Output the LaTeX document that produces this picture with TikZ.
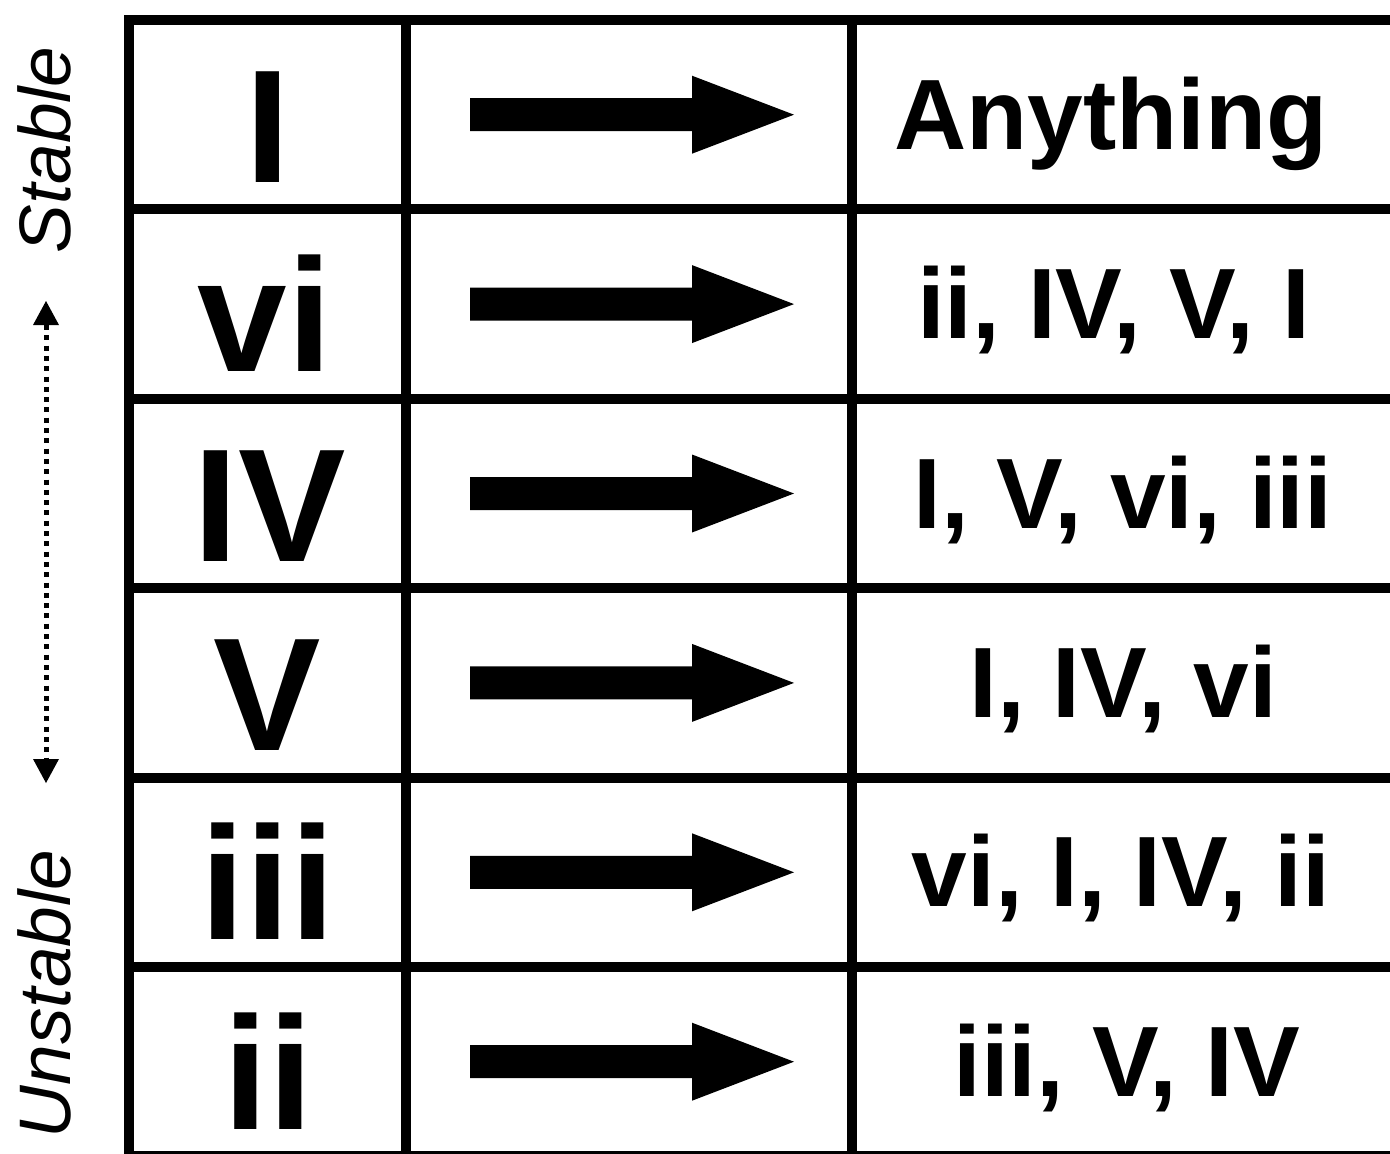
\documentclass[tikz,border=0pt]{standalone}
\usepackage{fontspec}
\setmainfont{Liberation Sans}
\begin{document}
\begin{tikzpicture}[x=1pt,y=-1pt,
  gridline/.style={line width=10pt,line cap=butt},
  bigtxt/.style={font=\fontsize{161}{161}\selectfont\bfseries,inner sep=0pt,anchor=base},
  smalltxt/.style={font=\fontsize{100}{100}\selectfont\bfseries,inner sep=0pt,anchor=base},
  sidetxt/.style={font=\fontsize{73}{73}\selectfont\itshape,inner sep=0pt,anchor=base,rotate=90},
  dotline/.style={line width=5pt,dash pattern=on 5pt off 5.3pt}]
\useasboundingbox (0,0) rectangle (1390,1154);
\fill[white] (0,0) rectangle (1390,1154);
\begin{scope}
\clip (0,0) rectangle (1390,1154);
\foreach \i in {0,...,6} \draw[gridline] (124,{20+189.4*\i}) -- (1400,{20+189.4*\i});
\foreach \x in {129,406,852} \draw[gridline] (\x,15) -- (\x,1170);
\end{scope}
% arrows
\foreach \i in {0,...,5} {
  \coordinate (as\i) at (470,{114.7+189.4*\i});
  \fill (as\i) ++(0,-16.5) -- ++(222,0) -- ++(0,-22.5) -- ++(102,39) -- ++(-102,39) -- ++(0,-22.5) -- ++(-222,0) -- cycle;
}
% left column
\node[bigtxt] (l0) at (267.5,{114.7+67.5}) {I};
\node[bigtxt] (l1) at (265,{114.7+189.4+67.5}) {vi};
\node[bigtxt] (l2) at (270,{114.7+2*189.4+67.5}) {IV};
\node[bigtxt] (l3) at (267.5,{114.7+3*189.4+67.5}) {V};
\node[bigtxt] (l4) at (268,{114.7+4*189.4+67.5}) {iii};
\node[bigtxt] (l5) at (268,{114.7+5*189.4+67.5}) {ii};
% right column
\node[smalltxt] (r0) at (1111,{114.7+34.5}) {Anything};
\node[smalltxt] (r1) at (1113.5,{114.7+189.4+34.5}) {ii, IV, V, I};
\node[smalltxt] (r2) at (1123,{114.7+2*189.4+34.5}) {I, V, vi, iii};
\node[smalltxt] (r3) at (1123,{114.7+3*189.4+34.5}) {I, IV, vi};
\node[smalltxt] (r4) at (1121,{114.7+4*189.4+34.5}) {vi, I, IV, ii};
\node[smalltxt] (r5) at (1126.5,{114.7+5*189.4+34.5}) {iii, V, IV};
% side labels
\node[sidetxt] (stable) at (70,150) {Stable};
\node[sidetxt] (unstable) at (70,994) {Unstable};
% dotted double arrow
\coordinate (up) at (46,301);
\coordinate (dn) at (46,783);
\coordinate (ub) at (46,325);
\coordinate (db) at (46,759);
\draw[dotline] (ub) -- (db);
\fill (up) -- ++(-13,24) -- ++(26,0) -- cycle;
\fill (dn) -- ++(-13,-24) -- ++(26,0) -- cycle;
\end{tikzpicture}
\end{document}
